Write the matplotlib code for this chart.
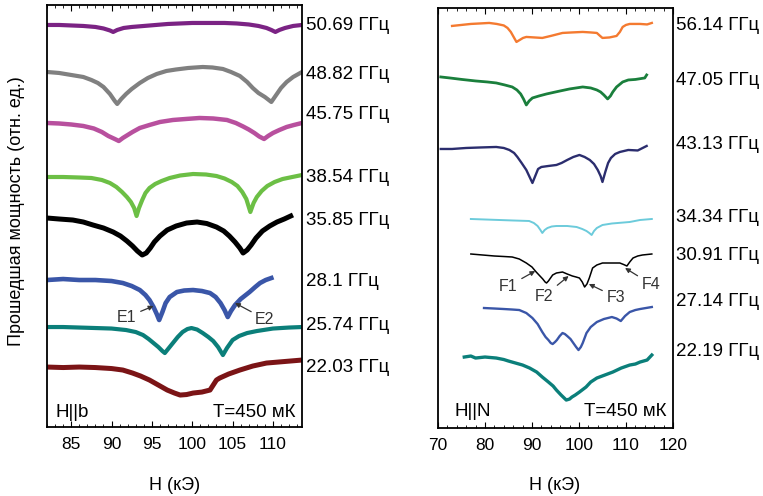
import matplotlib
matplotlib.use("Agg")
import matplotlib.pyplot as plt
import matplotlib.transforms as mtransforms
from matplotlib.ticker import MultipleLocator

plt.rcParams['font.family'] = ['Liberation Sans', 'DejaVu Sans']

# Readings are attenuation-like levels in arbitrary units (traces offset for clarity);
# plotted as transmitted power = -level.

# ---------------- Left panel (H || b) ----------------
left_freqs = ["50.69 ГГц", "48.82 ГГц", "45.75 ГГц", "38.54 ГГц",
              "35.85 ГГц", "28.1 ГГц", "25.74 ГГц", "22.03 ГГц"]

h_5069 = [82, 83.5, 85, 86.5, 88, 89, 89.8, 90.2, 90.7, 91.5, 92.5, 94, 95.5, 97, 98.5, 100, 102, 104, 105.5, 107, 108.2, 109.2, 109.8, 110.3, 110.8, 111.5, 112.5, 113.6]
a_5069 = [25, 25, 25.5, 26, 27, 28.5, 30.5, 32, 30, 28, 27, 26, 25, 24, 23.5, 23, 23, 23, 23.5, 24.5, 26, 28, 30, 32, 30, 28, 26, 25]

h_4882 = [82, 83.5, 85, 86.5, 87.5, 88.3, 89, 89.8, 90.4, 90.7, 91.2, 91.8, 92.5, 93.5, 94.5, 95.6, 96.8, 98, 99.5, 101.3, 102.5, 103.8, 104.8, 105.9, 106.8, 107.5, 108.2, 109, 109.8, 110.4, 111, 111.7, 112.5, 113.6]
a_4882 = [72, 73, 75, 77, 80, 83, 87, 94, 101, 104, 99, 94, 89, 83, 78, 74, 71, 69.5, 68, 67, 67.5, 69, 72, 76, 82, 88, 93, 97, 102, 95, 88, 82, 77, 72]

h_4575 = [82, 83.5, 85, 86.5, 87.8, 88.8, 89.6, 90.4, 90.9, 91.4, 92, 92.6, 93.5, 94.7, 96, 97.6, 99.2, 100.9, 102.6, 104.3, 105.4, 106.3, 107, 107.7, 108.3, 108.9, 109.4, 110, 110.8, 111.7, 112.6, 113.6]
a_4575 = [123, 123.5, 124.5, 126, 128.5, 132, 136, 139, 141, 138, 135, 132, 128, 125, 122, 120, 119, 118, 118.5, 120, 123, 126.5, 129.5, 133, 136.5, 139, 136, 133, 130, 127, 125, 123]

h_3854 = [82, 84, 86, 87.5, 88.8, 89.8, 90.6, 91.3, 91.9, 92.4, 92.8, 93.1, 93.4, 93.8, 94.2, 94.7, 95.4, 96.2, 97.2, 98.5, 100.1, 101.7, 103, 104, 104.9, 105.6, 106.2, 106.7, 107.2, 107.6, 108, 108.6, 109.3, 110.2, 111.2, 112.4, 113.6]
a_3854 = [177, 177, 177.5, 178, 180, 183, 187, 192, 197, 202, 208, 216, 208, 200, 193, 188, 184, 181, 178, 175.5, 174, 174.5, 176, 178.5, 182, 186, 192, 199, 212, 203, 197, 191, 186, 182, 179, 177, 175]

h_3585 = [82, 83.5, 85.2, 86.5, 87.7, 89, 90.2, 91.1, 91.9, 92.6, 93.2, 93.8, 94.3, 94.8, 95.3, 96, 96.9, 98, 99.3, 100.6, 101.8, 103, 103.9, 104.6, 105.3, 105.9, 106.3, 106.8, 107.3, 107.9, 108.7, 109.6, 110.5, 111.4, 112.2]
a_3585 = [218, 219, 220, 222, 225, 228, 232, 236, 241, 246, 251, 255, 253, 248, 242, 236, 230, 226, 223, 222, 223.5, 227, 231, 236, 242, 248, 253, 250, 245, 238, 231, 226, 222, 219, 216]

h_2810 = [82, 84, 86, 88, 90, 91.4, 92.5, 93.5, 94.2, 94.7, 95.2, 95.6, 95.9, 96.3, 96.7, 97.2, 98.1, 99, 100.1, 101.2, 102.2, 102.9, 103.5, 104, 104.4, 104.8, 105.3, 106, 107.1, 107.8, 108.4, 109.1, 109.8]
a_2810 = [280, 279, 280, 280, 281, 283, 286, 290, 295, 300, 307, 314, 320, 312, 303, 297, 292, 290.5, 290, 291, 293, 297, 303, 310, 317, 311, 305, 299, 292, 287, 283, 280, 278]

h_2574 = [82, 84, 86, 88, 90, 91.8, 93, 93.9, 94.6, 95.2, 95.8, 96.3, 96.6, 97, 97.6, 98.2, 98.8, 99.4, 99.9, 100.6, 101.3, 102, 102.6, 103.2, 103.8, 104.3, 105, 105.8, 106.8, 108, 110, 112, 113.6]
a_2574 = [327, 327, 327.5, 328, 328.5, 330, 332, 335, 339, 343, 347, 351, 353, 349, 343, 337, 332, 329, 328, 329.5, 333, 337, 341, 347, 355, 348, 340, 336, 333, 331, 328.5, 327.5, 327]

h_2203 = [82, 84, 86, 88, 90, 91.4, 92.6, 93.6, 94.7, 95.8, 96.9, 97.8, 98.5, 99.3, 100.1, 101.2, 102.2, 102.6, 103, 103.4, 104.5, 105.9, 107.5, 109.2, 111.4, 113.6]
a_2203 = [367, 367.5, 367, 367.5, 368.5, 370, 373, 376, 380, 385, 390, 393, 395, 394.5, 393, 392, 390, 385, 380, 378, 374, 370, 366, 363, 361.5, 360]

left_fields = [h_5069, h_4882, h_4575, h_3854, h_3585, h_2810, h_2574, h_2203]
left_levels = [a_5069, a_4882, a_4575, a_3854, a_3585, a_2810, a_2574, a_2203]
left_label_lv = [26, 75, 115, 178, 220, 281, 325, 367]
left_colors = ["#7B2384", "#808080", "#B8509E", "#6CBF45", "#000000",
               "#3A56A8", "#0B7F7A", "#7B1416"]
left_lw = [3.0, 3.0, 3.2, 3.0, 3.6, 3.3, 3.0, 3.6]

# ---------------- Right panel (H || N) ----------------
right_freqs = ["56.14 ГГц", "47.05 ГГц", "43.13 ГГц", "34.34 ГГц",
               "30.91 ГГц", "27.14 ГГц", "22.19 ГГц"]

h_5614 = [73, 75, 77, 79, 80.9, 82.5, 84, 84.8, 85.5, 86.1, 86.7, 87.4, 88.1, 88.8, 90.5, 92.2, 94, 96.5, 98.5, 100.8, 102.5, 103.8, 104.5, 105, 106.5, 108, 108.7, 109.3, 110, 110.8, 113, 114.5, 115.5]
a_5614 = [26, 25, 24, 23.5, 23, 24, 25.5, 28, 32, 37, 42, 40, 38, 37, 37.5, 38, 36, 33, 32.5, 32, 32.5, 33, 36, 38, 37.5, 36, 32, 27, 25, 24, 24, 24.5, 23]

h_4705 = [70.6, 72.5, 75.1, 78, 80.5, 82.4, 84.2, 85.8, 86.8, 87.6, 88.2, 88.8, 89.4, 90.1, 91.5, 93.1, 95.5, 98, 100.8, 102.5, 103.8, 104.6, 105.3, 106.1, 106.7, 107.2, 108, 109.3, 110.5, 112, 114, 114.4]
a_4705 = [77, 78, 79.5, 81, 82, 83, 85, 87, 90, 94, 99, 105, 101, 98, 96, 94, 91.5, 89, 87, 88, 90, 92, 95, 99, 96, 92, 87, 82, 80, 79.5, 78, 75]

h_4313 = [70.6, 73, 76, 79, 82.4, 84, 85.2, 86.2, 86.9, 87.8, 88.8, 89.5, 90.1, 90.7, 91.3, 92, 93.5, 95.2, 96.3, 97.5, 98.8, 100.1, 101.2, 102.3, 103.2, 104, 104.6, 105, 105.6, 106.2, 106.8, 107.7, 108.7, 110.5, 112.5, 114.4]
a_4313 = [149, 149, 148, 147.5, 147, 148, 150, 153, 157, 163, 170, 177, 183, 176, 169, 167, 166, 165, 163, 160, 157, 155, 157, 160, 164, 170, 176, 182, 172, 163, 158, 154, 152, 150, 150.5, 146]

h_3434 = [77, 80, 83, 86, 89.4, 90.4, 91.2, 91.8, 92.2, 92.7, 93.3, 94.2, 95.2, 97.5, 99.5, 100.7, 101.6, 102.2, 102.7, 103.2, 103.8, 105, 107, 110.8, 113, 115.5]
a_3434 = [219, 219.5, 220, 220.5, 221, 223, 226, 230, 233, 230, 228, 226.5, 226, 226, 227, 229, 231, 233, 235, 231, 228, 225, 223.5, 222, 220, 219]

h_3091 = [77, 79.5, 82, 84, 85.8, 87.3, 88.8, 90, 90.9, 91.7, 92.3, 92.8, 93.1, 93.5, 93.8, 94.4, 95.2, 96.5, 97.5, 98.6, 99.4, 100.1, 100.7, 101.2, 101.7, 102.2, 102.9, 103.8, 105, 107, 108.7, 109.5, 110.2, 110.8, 111.5, 112.5, 113.5, 115.5]
a_3091 = [254, 255, 256, 256.5, 257, 259, 263, 267, 272, 276, 279, 282, 283, 281, 279, 275, 273, 272, 274, 276, 277, 278, 282, 287, 284, 278, 268, 265, 263, 263, 263, 264.5, 266, 262, 258, 256, 255, 254]

h_2714 = [79.8, 82, 84, 85.8, 87.3, 88.8, 90.1, 91.2, 92.2, 92.9, 93.5, 94, 94.4, 94.9, 95.3, 95.9, 96.5, 97, 97.5, 98.2, 98.8, 99.4, 99.9, 100.4, 100.8, 101.2, 101.6, 102.5, 103.8, 105.3, 107, 108, 108.9, 109.8, 110.8, 112, 113, 115.5]
a_2714 = [308, 308.5, 309, 309.5, 310, 313, 318, 324, 332, 337, 340, 343, 344, 342, 340, 336, 333, 334, 336, 339, 343, 347, 350, 347, 343, 338, 333, 327, 322, 319, 317, 318.5, 321, 316, 312, 310, 309, 307]

h_2219 = [75.6, 77, 78, 80, 82.4, 84, 85, 86.5, 88, 89.5, 91, 92.2, 93.5, 94.5, 95.2, 96.2, 97.3, 98, 98.5, 99.2, 100.1, 101.5, 102.5, 103.8, 105.5, 107.2, 109, 110.8, 112, 113, 114.5, 115.5]
a_2219 = [357, 356, 358, 357, 358, 359.5, 361, 363, 365, 368, 372, 377, 382, 386, 390, 395, 400, 399, 397, 395, 392, 387, 382, 378, 375, 372, 368, 365, 364, 362, 360, 355]

right_fields = [h_5614, h_4705, h_4313, h_3434, h_3091, h_2714, h_2219]
right_levels = [a_5614, a_4705, a_4313, a_3434, a_3091, a_2714, a_2219]
right_label_lv = [26, 81, 145, 218, 255, 301, 351]
right_colors = ["#F47A30", "#1A7F3C", "#2B2D6E", "#6CCBDB", "#000000",
                "#3A56A8", "#0B7F7A"]
right_lw = [1.7, 2.0, 1.7, 1.4, 1.1, 1.7, 2.4]

# annotations: (label, text H, text level, tip H, tip level)
left_ann = [("E1", 91.9, 317, 95.2, 306), ("E2", 109.0, 319, 105.3, 303)]
right_ann = [("F1", 85.0, 286, 90.7, 271), ("F2", 92.6, 296, 97.8, 276),
             ("F3", 107.8, 297, 102.1, 284), ("F4", 115.3, 284, 109.8, 268)]

fig = plt.figure(figsize=(7.63, 4.96), dpi=100)
axL = fig.add_axes([0.0616, 0.139, 0.3342, 0.851])
axR = fig.add_axes([0.574, 0.137, 0.308, 0.847])


def draw(ax, fields, levels, colors, lws, labels, label_lv, xlab):
    for h, a, c, lw in zip(fields, levels, colors, lws):
        ax.plot(h, [-v for v in a], color=c, lw=lw, solid_joinstyle='round')
    trans = mtransforms.blended_transform_factory(ax.transAxes, ax.transData)
    for lab, lv in zip(labels, label_lv):
        ax.text(xlab, -lv, lab, transform=trans, ha='left', va='center',
                fontsize=13.5, clip_on=False)
    ax.set_yticks([])
    ax.tick_params(axis='x', which='both', direction='in', top=True,
                   labelsize=12.5, pad=7)
    ax.tick_params(axis='x', which='major', length=4, width=0.8)
    ax.tick_params(axis='x', which='minor', length=2.5, width=0.6)
    for s in ax.spines.values():
        s.set_linewidth(1.3)


draw(axL, left_fields, left_levels, left_colors, left_lw,
     left_freqs, left_label_lv, 1.016)
axL.set_xlim(82, 113.6)
axL.set_ylim(-427, -5)
axL.set_xticks([85, 90, 95, 100, 105, 110])
axL.xaxis.set_minor_locator(MultipleLocator(1))

draw(axR, right_fields, right_levels, right_colors, right_lw,
     right_freqs, right_label_lv, 1.013)
axR.set_xlim(70, 120)
axR.set_ylim(-428, -8)
axR.set_xticks([70, 80, 90, 100, 110, 120])
axR.xaxis.set_minor_locator(MultipleLocator(2))

for ax, anns in ((axL, left_ann), (axR, right_ann)):
    for lab, tx, ty, hx, hy in anns:
        ax.annotate(lab, xy=(hx, -hy), xytext=(tx, -ty), fontsize=11.5, color='#333333',
                    ha='center', va='center',
                    arrowprops=dict(arrowstyle='-|>', color='#333333', lw=0.9,
                                    mutation_scale=7, shrinkA=1, shrinkB=0))

axL.text(0.035, 0.035, "H||b", transform=axL.transAxes, fontsize=13.5,
         ha='left', va='center')
axL.text(0.973, 0.035, "T=450 мК", transform=axL.transAxes, fontsize=13.5,
         ha='right', va='center')
axR.text(0.072, 0.04, "H||N", transform=axR.transAxes, fontsize=13.5,
         ha='left', va='center')
axR.text(0.974, 0.04, "T=450 мК", transform=axR.transAxes, fontsize=13.5,
         ha='right', va='center')

fig.text(0.229, 0.022, "H (кЭ)", ha='center', va='center', fontsize=13)
fig.text(0.727, 0.022, "H (кЭ)", ha='center', va='center', fontsize=13)
fig.text(0.021, 0.575, "Прошедшая мощность (отн. ед.)", rotation=90,
         ha='center', va='center', fontsize=13)

fig.savefig("out.png", dpi=100)
